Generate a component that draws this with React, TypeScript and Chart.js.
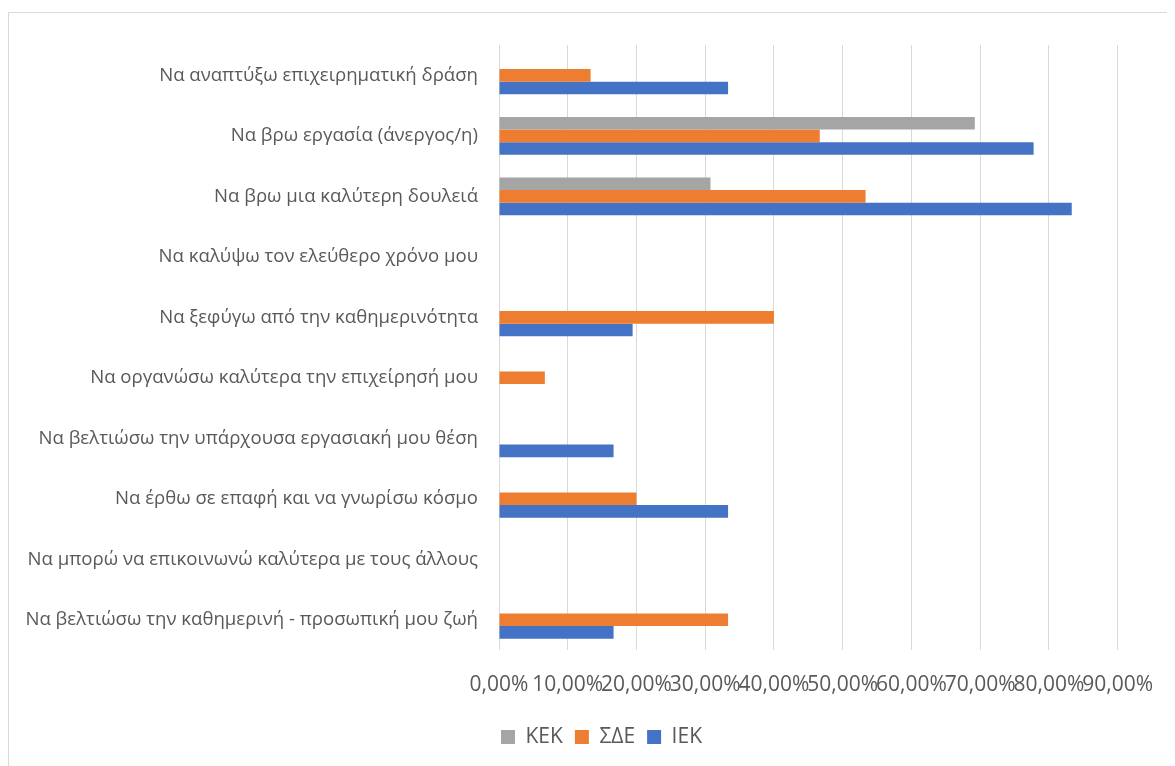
import React, { useEffect, useRef } from "react";
import { Chart, registerables } from "chart.js";

Chart.register(...registerables);

const categories: string[] = [
  "Να αναπτύξω επιχειρηματική δράση",
  "Να βρω εργασία (άνεργος/η)",
  "Να βρω μια καλύτερη δουλειά",
  "Να καλύψω τον ελεύθερο χρόνο μου",
  "Να ξεφύγω από την καθημερινότητα",
  "Να οργανώσω καλύτερα την επιχείρησή μου",
  "Να βελτιώσω την υπάρχουσα εργασιακή μου θέση",
  "Να έρθω σε επαφή και να γνωρίσω κόσμο",
  "Να μπορώ να επικοινωνώ καλύτερα με τους άλλους",
  "Να βελτιώσω την καθημερινή - προσωπική μου ζωή",
];

const seriesNames: string[] = ["ΚΕΚ", "ΣΔΕ", "ΙΕΚ"];

const kekValues: number[] = [0, 69.23, 30.77, 0, 0, 0, 0, 0, 0, 0];
const sdeValues: number[] = [13.33, 46.67, 53.33, 0, 40.0, 6.67, 0, 20.0, 0, 33.33];
const iekValues: number[] = [33.33, 77.78, 83.33, 0, 19.44, 0, 16.67, 33.33, 0, 16.67];

const xMin = 0;
const xMax = 90;
const xStep = 10;

const colors = {
  kek: "#A5A5A5",
  sde: "#ED7D31",
  iek: "#4472C4",
  text: "#595959",
  grid: "#D9D9D9",
};

const formatPercent = (v: number) => v.toFixed(2).replace(".", ",") + "%";

const legendShift = {
  id: "legendShift",
  afterLayout(chart: any) {
    const lg = chart.legend;
    if (lg) {
      lg.left += 36;
      lg.right += 36;
    }
  },
};

export default function App() {
  const canvasRef = useRef<HTMLCanvasElement | null>(null);

  useEffect(() => {
    document.body.style.overflow = "hidden";
    const canvas = canvasRef.current;
    if (!canvas) return;
    const chart = new Chart(canvas, {
      type: "bar",
      data: {
        labels: categories,
        datasets: [
          { label: seriesNames[0], data: kekValues, backgroundColor: colors.kek },
          { label: seriesNames[1], data: sdeValues, backgroundColor: colors.sde },
          { label: seriesNames[2], data: iekValues, backgroundColor: colors.iek },
        ],
      },
      plugins: [legendShift],
      options: {
        indexAxis: "y",
        responsive: false,
        maintainAspectRatio: false,
        animation: false,
        datasets: {
          bar: { categoryPercentage: 0.625, barPercentage: 1, borderWidth: 0 },
        },
        layout: { padding: { top: 29, right: 53, left: 0, bottom: 8.5 } },
        scales: {
          x: {
            min: xMin,
            max: xMax,
            ticks: {
              stepSize: xStep,
              autoSkip: false,
              maxRotation: 0,
              minRotation: 0,
              padding: 22,
              color: colors.text,
              font: { family: "'Open Sans'", size: 21 },
              callback: (v: any) => formatPercent(Number(v)),
            },
            grid: { color: colors.grid, lineWidth: 1, drawTicks: false },
            border: { display: false },
            afterFit: (s: any) => {
              s.height = 64.5;
            },
          },
          y: {
            grid: { display: false, drawTicks: false },
            border: { display: false },
            ticks: {
              autoSkip: false,
              padding: 21,
              color: colors.text,
              font: { family: "'Open Sans'", size: 18.6 },
            },
            afterFit: (s: any) => {
              s.width = 490;
            },
          },
        },
        plugins: {
          legend: {
            position: "bottom",
            labels: {
              boxWidth: 14,
              boxHeight: 14,
              padding: 12,
              color: colors.text,
              font: { family: "'Open Sans'", size: 21 },
            },
          },
          tooltip: { enabled: false },
        },
      },
    });
    return () => chart.destroy();
  }, []);

  return (
    <div style={{ paddingTop: 4 }}>
      <div
        style={{
          width: 1167,
          height: 754,
          borderLeft: "1px solid #D9D9D9",
          borderTop: "1px solid #D9D9D9",
          boxSizing: "border-box",
          background: "#fff",
        }}
      >
        <canvas ref={canvasRef} width={1166} height={753} style={{ display: "block" }} />
      </div>
    </div>
  );
}
